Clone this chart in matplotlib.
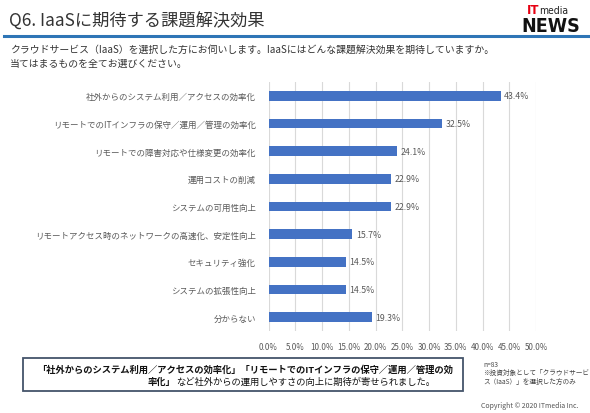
import matplotlib.pyplot as plt
from matplotlib.patches import Rectangle
from matplotlib.lines import Line2D

plt.rcParams['font.family'] = ['Noto Sans CJK JP', 'DejaVu Sans']

categories = [
    "社外からのシステム利用／アクセスの効率化",
    "リモートでのITインフラの保守／運用／管理の効率化",
    "リモートでの障害対応や仕様変更の効率化",
    "運用コストの削減",
    "システムの可用性向上",
    "リモートアクセス時のネットワークの高速化、安定性向上",
    "セキュリティ強化",
    "システムの拡張性向上",
    "分からない",
]
values = [43.4, 32.5, 24.1, 22.9, 22.9, 15.7, 14.5, 14.5, 19.3]
xticks = [0, 5, 10, 15, 20, 25, 30, 35, 40, 45, 50]

W, H = 590, 414
fig = plt.figure(figsize=(W / 100, H / 100), dpi=100)
fig.patch.set_facecolor('white')
renderer = fig.canvas.get_renderer()

def fx(px):
    return px / W

def fy(py):
    return 1 - py / H

def text_after(t, s, **kw):
    # place a text right after another one
    bb = t.get_window_extent(renderer)
    x, y = t.get_position()
    return fig.text(bb.x1 / W, y, s, **kw)

# header
fig.text(fx(9), fy(22), "Q6. IaaSに期待する課題解決効果", fontsize=12.4,
         color='#333333', va='center', ha='left')
fig.add_artist(Line2D([fx(4), fx(590)], [fy(37), fy(37)], color='#2E75B6',
                      lw=2.2, transform=fig.transFigure))
t_it = fig.text(fx(527), fy(11), "IT", fontsize=8.5, fontweight='bold',
                color='#e60012', va='center', ha='left', family='DejaVu Sans')
text_after(t_it, "media", fontsize=7.5, color='#222222', va='center', ha='left',
           family='DejaVu Sans', stretch='condensed')
fig.text(fx(551), fy(26), "NEWS", fontsize=14, fontweight='bold',
         color='#111111', va='center', ha='center', family='DejaVu Sans',
         stretch='condensed')

fig.text(fx(10), fy(50), "クラウドサービス（IaaS）を選択した方にお伺いします。IaaSにはどんな課題解決効果を期待していますか。",
         fontsize=7.1, color='#333333', va='center', ha='left')
fig.text(fx(10), fy(64), "当てはまるものを全てお選びください。",
         fontsize=7.1, color='#333333', va='center', ha='left')

# chart
ax = fig.add_axes([fx(268.5), fy(332), fx(536) - fx(268.5), (332 - 83) / H])
y = list(range(len(categories)))
ax.barh(y, values, height=0.35, color='#4472C4', zorder=3)
for yi, v in zip(y, values):
    ax.text(v + 0.6, yi, f"{v:.1f}%", fontsize=6.3, color='#595959',
            va='center', ha='left')
ax.set_xlim(0, 50)
ax.set_ylim(len(categories) - 0.5, -0.5)
ax.set_xticks(xticks)
ax.set_xticklabels([f"{t:.1f}%" for t in xticks])
ax.set_yticks(y)
ax.set_yticklabels(categories)
ax.tick_params(axis='x', labelsize=5.8, labelcolor='#595959', length=0, pad=8)
ax.tick_params(axis='y', labelsize=6.1, labelcolor='#595959', length=0, pad=9)
ax.grid(axis='x', color='#d9d9d9', lw=0.8, zorder=0)
ax.set_axisbelow(True)
for s in ax.spines.values():
    s.set_visible(False)

# comment box
fig.add_artist(Rectangle((fx(23), fy(392)), fx(463) - fx(23), (392 - 359) / H,
                         transform=fig.transFigure, fill=False,
                         edgecolor='#44546A', lw=1.3))
fig.text(fx(245), fy(370), "「社外からのシステム利用／アクセスの効率化」「リモートでのITインフラの保守／運用／管理の効",
         fontsize=6.7, fontweight='bold', color='#111111', va='center', ha='center')
t_b = fig.text(fx(148), fy(382), "率化」", fontsize=6.7, fontweight='bold',
               color='#111111', va='center', ha='left')
text_after(t_b, "など社外からの運用しやすさの向上に期待が寄せられました。",
           fontsize=6.7, color='#111111', va='center', ha='left')

# notes
fig.text(fx(483), fy(365), "n=83", fontsize=4.8, color='#444444', va='center', ha='left')
fig.text(fx(483), fy(373), "※投資対象として「クラウドサービ", fontsize=4.8,
         color='#444444', va='center', ha='left')
fig.text(fx(483), fy(382), "ス（IaaS）」を選択した方のみ", fontsize=4.8,
         color='#444444', va='center', ha='left')
fig.text(fx(578), fy(406), "Copyright © 2020 ITmedia Inc.", fontsize=5,
         color='#555555', va='center', ha='right')

fig.savefig('out.png', dpi=100)
